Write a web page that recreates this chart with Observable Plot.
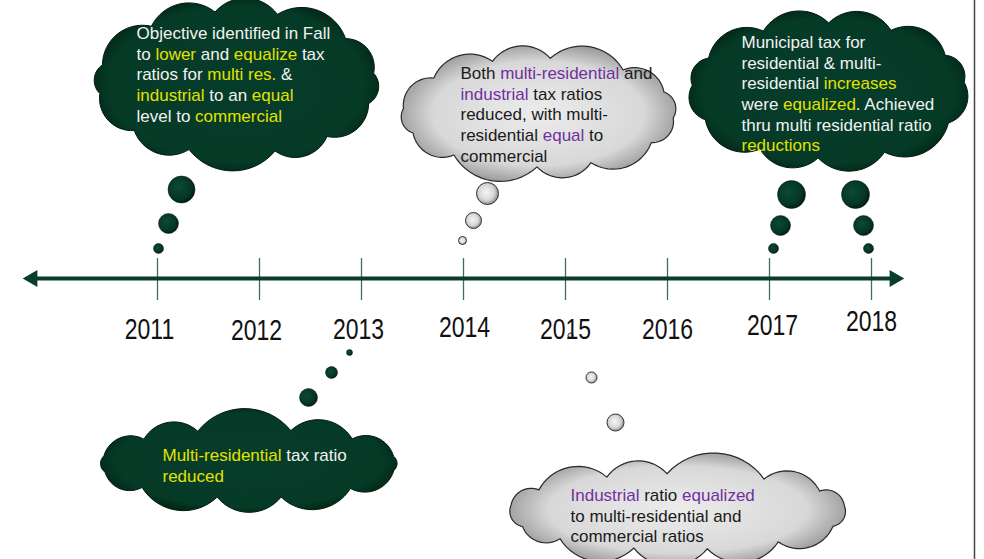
<!DOCTYPE html>
<html><head><meta charset="utf-8">
<script src="https://cdn.jsdelivr.net/npm/d3@7"></script>
<script src="https://cdn.jsdelivr.net/npm/@observablehq/plot@0.6"></script>
<style>body{margin:0;background:#fff;} svg{display:block}</style>
</head><body><div id="chart"></div>
<script>
// ---------- DATA ----------
const years = [2011, 2012, 2013, 2014, 2015, 2016, 2017, 2018];
const yearLabels = ["2011", "2012", "2013", "2014", "2015", "2016", "2017", "2018"];
// [..] = yellow highlight, {..} = purple highlight
const note2011 = ["Objective identified in Fall", "to [lower] and [equalize] tax", "ratios for [multi res.] &", "[industrial] to an [equal]", "level to [commercial]"];
const note2013 = ["[Multi-residential] tax ratio", "[reduced]"];
const note2014 = ["Both {multi-residential} and", "{industrial} tax ratios", "reduced, with multi-", "residential {equal} to", "commercial"];
const note2015 = ["{Industrial} ratio {equalized}", "to multi-residential and", "commercial ratios"];
const note2017 = ["Municipal tax for", "residential & multi-", "residential [increases]", "were [equalized]. Achieved", "thru multi residential ratio", "[reductions]"];

// ---------- LAYOUT (pixels) ----------
const X = px => 2011 + (px - 157) / 102;  // pixel -> year units of the x scale
const layout = [
  {lines: note2011, tone: "dark", box: [236, 82, 152, 85], n: 12, phase: 0.3, text: [136, 33],
   bubbles: [[181, 189, 13.5], [168, 223, 10], [158, 248, 5]]},
  {lines: note2014, tone: "gray", box: [538, 112, 148, 67], n: 12, phase: 0.1, text: [460, 73],
   bubbles: [[487, 193, 11], [473, 220, 8], [462, 240, 4]]},
  {lines: note2017, tone: "dark", box: [828, 90, 150, 81], n: 12, phase: 0.5, text: [741, 42],
   bubbles: [[791, 194, 14], [780, 225, 10], [773, 248, 5], [855, 194, 14], [863, 225, 10], [868, 248, 5]]},
  {lines: note2013, tone: "dark", box: [248, 463, 161, 47], n: 12, phase: 0.2, text: [162, 455],
   bubbles: [[349, 352, 3], [331, 372, 6], [308, 397, 9]]},
  {lines: note2015, tone: "gray", box: [677, 511, 182, 51], n: 13, phase: 0.4, text: [570, 495],
   bubbles: [[570, 335, 2.5], [591, 377, 5.5], [615, 422, 8.5]]}
];
const lineStep = 20.7;
const labelDx = [-8, -3, -3, 1, 0, 0, 3, 0];
const labelDy = [9, 10, 9, 7, 9, 9, 5, 1];
const weights = [1.1, 0.85, 1.25, 0.95, 1.15, 0.8, 1.3, 1.0, 0.9, 1.2, 1.05, 0.85, 1.15, 1.0, 0.95];

function cloud(id, [cx, cy, hw, hh], n, phase) {
  const bulge = 0.24;
  const per = Math.PI * (3 * (hw + hh) - Math.sqrt((3 * hw + hh) * (hw + 3 * hh)));
  const h0 = bulge * per / n;
  const a = hw - h0 * 0.9, b = hh - h0 * 0.9;
  const w = d3.range(n).map(i => weights[(i + id * 3) % weights.length]);
  const tot = d3.sum(w);
  const angs = [phase];
  w.forEach(v => angs.push(angs[angs.length - 1] + v / tot * 2 * Math.PI));
  const pts = [];
  for (let i = 0; i < n; i++) {
    const p0 = [cx + a * Math.cos(angs[i]), cy + b * Math.sin(angs[i])];
    const p1 = [cx + a * Math.cos(angs[i + 1]), cy + b * Math.sin(angs[i + 1])];
    const mx = (p0[0] + p1[0]) / 2, my = (p0[1] + p1[1]) / 2;
    const dx = p1[0] - p0[0], dy = p1[1] - p0[1];
    const c = Math.hypot(dx, dy);
    let nx = dy / c, ny = -dx / c;
    if (nx * (mx - cx) + ny * (my - cy) < 0) { nx = -nx; ny = -ny; }
    const h = c * bulge;
    const R = (c * c / 4 + h * h) / (2 * h);
    const ox = mx + nx * (h - R), oy = my + ny * (h - R);
    const a0 = Math.atan2(p0[1] - oy, p0[0] - ox);
    const am = Math.atan2(my + ny * h - oy, mx + nx * h - ox);
    let d = am - a0;
    while (d > Math.PI) d -= 2 * Math.PI;
    while (d < -Math.PI) d += 2 * Math.PI;
    const sweep = 2 * Math.asin(Math.min(1, c / (2 * R)));
    const s = Math.sign(d);
    for (let k = 0; k <= 16; k++) {
      const t = a0 + s * sweep * k / 16;
      pts.push({id, x: X(ox + R * Math.cos(t)), y: oy + R * Math.sin(t)});
    }
  }
  return pts;
}

const darkClouds = [], grayClouds = [], lightText = [], darkText = [], darkBub = [], grayBub = [];
layout.forEach((c, i) => {
  (c.tone === "dark" ? darkClouds : grayClouds).push(...cloud(i, c.box, c.n, c.phase));
  c.lines.forEach((t, j) => (c.tone === "dark" ? lightText : darkText).push({x: X(c.text[0]), y: c.text[1] + j * lineStep, t}));
  c.bubbles.forEach(([bx, by, r]) => (c.tone === "dark" ? darkBub : grayBub).push({x: X(bx), y: by, r}));
});

const font = "'Liberation Sans', Arial, sans-serif";
const svg = Plot.plot({
  width: 984, height: 559,
  margin: 0, marginTop: 0, marginRight: 0, marginBottom: 0, marginLeft: 0,
  style: {background: "#fff", fontFamily: font},
  x: {domain: [2011, 2018], range: [157, 871], axis: null},
  y: {domain: [0, 559], range: [0, 559], axis: null},
  r: {type: "linear", domain: [0, 20], range: [0, 20]},
  marks: [
    Plot.line(darkClouds, {x: "x", y: "y", z: "id", fill: "#010203", stroke: "#021a10", strokeWidth: 1, curve: "linear"}),
    Plot.line(grayClouds, {x: "x", y: "y", z: "id", fill: "#010204", stroke: "#2a2a2a", strokeWidth: 1.2, curve: "linear"}),
    Plot.text(lightText, {x: "x", y: "y", text: "t", textAnchor: "start", fontSize: 17, fill: "#f2f2f2"}),
    Plot.text(darkText, {x: "x", y: "y", text: "t", textAnchor: "start", fontSize: 17, fill: "#1a1a1a"}),
    Plot.dot(darkBub, {x: "x", y: "y", r: "r", fill: "#010205", stroke: "#03150d", strokeWidth: 0.5}),
    Plot.dot(grayBub, {x: "x", y: "y", r: "r", fill: "#010206", stroke: "#333", strokeWidth: 1}),
    // timeline ticks
    Plot.ruleX(years, {x: d => d, y1: 258, y2: 300, stroke: "#3f6e5c", strokeWidth: 1.3}),
    // timeline axis line with arrowheads
    Plot.ruleY([278], {x1: X(28), x2: X(898), stroke: "#083d2a", strokeWidth: 4}),
    Plot.dot([X(32)], {x: d => d, y: 278, symbol: "triangle", r: 6.3, rotate: -90, fill: "#083d2a", stroke: "none"}),
    Plot.dot([X(894)], {x: d => d, y: 278, symbol: "triangle", r: 6.3, rotate: 90, fill: "#083d2a", stroke: "none"}),
    Plot.text(years, {x: d => d, y: 329, text: (d, i) => yearLabels[i], fontSize: 23, fill: "#111"}),
    // right border
    Plot.ruleX([X(974)], {stroke: "#444", strokeWidth: 1.5})
  ]
});

// gradients
const NS = "http://www.w3.org/2000/svg";
const defs = document.createElementNS(NS, "defs");
function grad(id, cx, cy, r, stops) {
  const g = document.createElementNS(NS, "radialGradient");
  g.setAttribute("id", id); g.setAttribute("cx", cx); g.setAttribute("cy", cy); g.setAttribute("r", r);
  stops.forEach(([o, c]) => {
    const s = document.createElementNS(NS, "stop");
    s.setAttribute("offset", o); s.setAttribute("stop-color", c); g.appendChild(s);
  });
  defs.appendChild(g);
}
grad("gDark", "50%", "50%", "55%", [["0", "#063d2a"], ["0.82", "#053a27"], ["1", "#01200f"]]);
grad("gGray", "50%", "50%", "55%", [["0", "#ececec"], ["0.7", "#d8d8d8"], ["1", "#8e8e8e"]]);
grad("bDark", "40%", "40%", "65%", [["0", "#0b4a33"], ["0.7", "#053626"], ["1", "#011a10"]]);
grad("bGray", "45%", "45%", "60%", [["0", "#f6f6f6"], ["0.6", "#d6d6d6"], ["1", "#7a7a7a"]]);
svg.insertBefore(defs, svg.firstChild);
const swap = {"#010203": "url(#gDark)", "#010204": "url(#gGray)", "#010205": "url(#bDark)", "#010206": "url(#bGray)"};
Object.entries(swap).forEach(([k, v]) => svg.querySelectorAll(`[fill="${k}"]`).forEach(e => e.setAttribute("fill", v)));

// colour highlighted words & stretch year labels like the original
svg.querySelectorAll("text").forEach(t => {
  const s = t.textContent;
  const yi = yearLabels.indexOf(s);
  if (yi >= 0) {
    const tr = t.getAttribute("transform") || "";
    const m = /translate\(([-\d.]+),\s*([-\d.]+)\)/.exec(tr);
    let x = +t.getAttribute("x") || 0, y = +t.getAttribute("y") || 0;
    if (m) { x += +m[1]; y += +m[2]; }
    t.removeAttribute("x"); t.removeAttribute("y");
    t.setAttribute("transform", `translate(${x + labelDx[yi]},${y + labelDy[yi]}) scale(1,1.25)`);
    return;
  }
  if (!/[\[\{]/.test(s)) return;
  t.textContent = "";
  const re = /\[([^\]]*)\]|\{([^}]*)\}|([^\[\{]+)/g;
  let m;
  while ((m = re.exec(s))) {
    const ts = document.createElementNS(NS, "tspan");
    if (m[1] !== undefined) { ts.textContent = m[1]; ts.setAttribute("fill", "#e2e200"); }
    else if (m[2] !== undefined) { ts.textContent = m[2]; ts.setAttribute("fill", "#7030a0"); }
    else ts.textContent = m[3];
    t.appendChild(ts);
  }
});
document.getElementById("chart").appendChild(svg);
</script>
</body></html>
